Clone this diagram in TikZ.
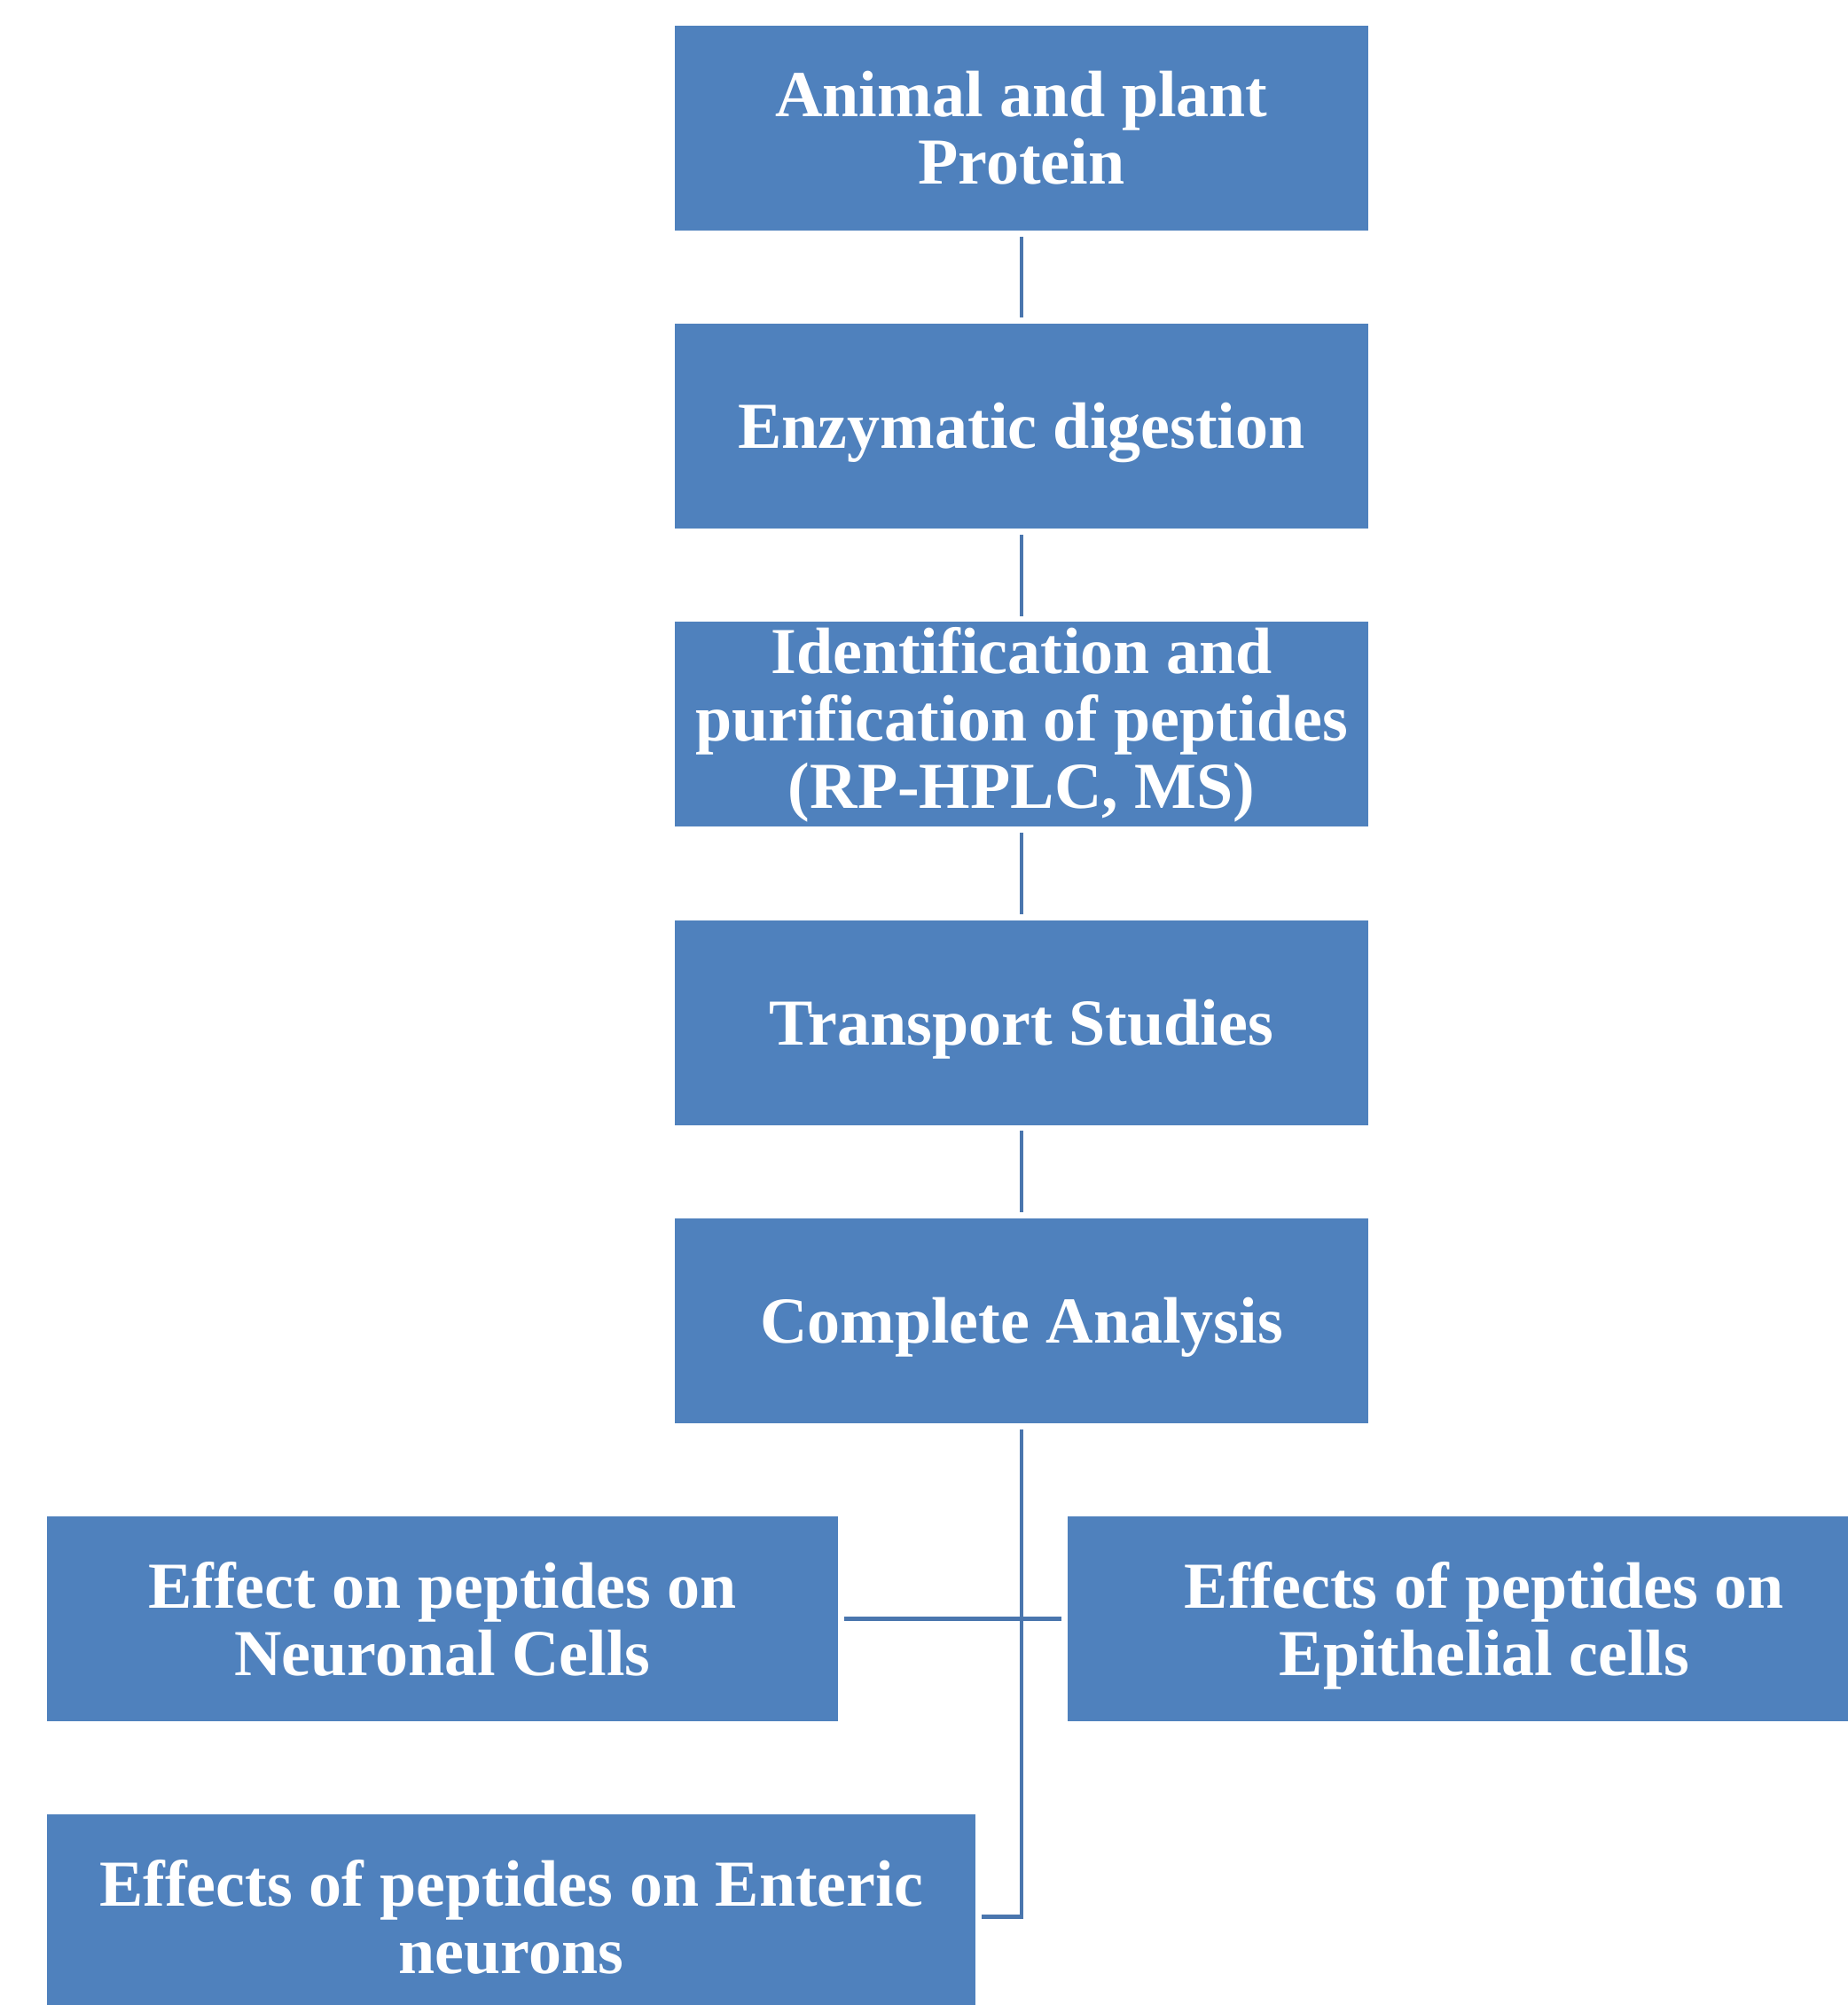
\documentclass[tikz,border=0pt]{standalone}
\usepackage{fontspec}
\setmainfont{Liberation Serif}
\usetikzlibrary{positioning}
\definecolor{boxblue}{HTML}{4F81BD}
\definecolor{lineblue}{HTML}{4A76AE}

\begin{document}
\begin{tikzpicture}
    [stage/.style={rectangle,fill=boxblue,text=white,align=center,inner sep=0pt,
       minimum width=195.5pt,minimum height=57.75pt,
       font=\fontsize{18.5}{19}\selectfont\bfseries},
     oneline/.style={text height=16.5pt,text depth=4pt},
     link/.style={draw=lineblue,line width=1.2pt,shorten <=1.5pt,shorten >=1.5pt},
     node distance=25.9pt
]
\useasboundingbox (0,0) rectangle (521pt,-565.25pt);
\clip (0,0) rectangle (521pt,-565.25pt);
  \node[stage] (prot) at (288pt,-36.125pt) {Animal and plant\\Protein};
  \node[stage,oneline,below=of prot] (dige) {Enzymatic digestion};
  \node[stage,below=of dige] (iden) {Identification and\\purification of peptides\\(RP-HPLC, MS)};
  \node[stage,oneline,below=of iden] (tran) {Transport Studies};
  \node[stage,oneline,below=of tran] (anal) {Complete Analysis};
  % effects of the peptides
  \node[stage,minimum width=223pt,below=of anal,xshift=-163.25pt] (neur)
    {Effect on peptides on\\Neuronal Cells};
  \node[stage,minimum width=235pt,text depth=0pt,below=of anal,xshift=130.5pt] (epit)
    {Effects of peptides on\\Epithelial cells};
  \node[stage,minimum width=261.75pt,below=of neur,xshift=19.375pt] (ente)
    {Effects of peptides on Enteric\\neurons};

  \draw[link] (prot) -- (dige);
  \draw[link] (dige) -- (iden);
  \draw[link] (iden) -- (tran);
  \draw[link] (tran) -- (anal);
  \draw[link] (anal) |- (ente);
  \draw[link] (neur) -- (epit);
\end{tikzpicture}
\end{document}
